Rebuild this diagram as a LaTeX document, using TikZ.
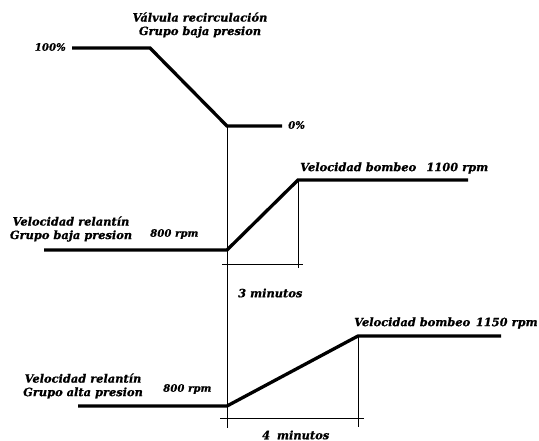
\documentclass[tikz,border=0pt]{standalone}
\usepackage{fontspec}
\setmainfont{DejaVu Serif}[BoldItalicFeatures={FakeBold=0.9}]
\begin{document}
\begin{tikzpicture}[x=1pt,y=-1pt,
  trace/.style={line width=3.3pt,line join=miter},
  guide/.style={line width=0.9pt},
  lbl/.style={inner sep=0pt,font=\fontsize{11.4}{13.5}\selectfont\bfseries\itshape},
  lbls/.style={lbl,font=\fontsize{10.2}{12}\selectfont\bfseries\itshape}]
\useasboundingbox (0,0) rectangle (539,441);
% valve trace
\coordinate (v0) at (72,48);
\coordinate (v1) at (150,48);
\coordinate (v2) at (227,126);
\coordinate (v3) at (282,126);
\draw[trace] (v0) -- (v1) -- (v2) -- (v3);
% low pressure group trace
\coordinate (a0) at (44,250);
\coordinate (a1) at (227,250);
\coordinate (a2) at (298,180);
\coordinate (a3) at (468,180);
\draw[trace] (a0) -- (a1) -- (a2) -- (a3);
% high pressure group trace
\coordinate (b0) at (78,406);
\coordinate (b1) at (227,406);
\coordinate (b2) at (358,336);
\coordinate (b3) at (501,336);
\draw[trace] (b0) -- (b1) -- (b2) -- (b3);
% time reference and dimension lines
\coordinate (t0) at (227,428);
\draw[guide] (v2) -- (t0);
\coordinate (ta) at (298,268);
\draw[guide] (a2) -- (ta);
\coordinate (da0) at (222,264);
\coordinate (da1) at (303,264);
\draw[guide] (da0) -- (da1);
\coordinate (tb) at (358,427);
\draw[guide] (b2) -- (tb);
\coordinate (db0) at (220,418);
\coordinate (db1) at (364,418);
\draw[guide] (db0) -- (db1);
% labels
\node[lbl,align=center] (title) at (200,25) {Válvula recirculación\\Grupo baja presion};
\node[lbls,anchor=east] (p100) at (66,47) {100\%};
\node[lbls,anchor=west] (p0) at (288,125) {0\%};
\node[lbl,align=center] (ra) at (71,229) {Velocidad relantín\\Grupo baja presion};
\node[lbls,anchor=west] (ra8) at (150,234) {800 rpm};
\node[lbl,anchor=west] (ba) at (300,168) {Velocidad bombeo\hspace{0.9em}1100 rpm};
\node[lbl,anchor=west] (ma) at (238,293) {3 minutos};
\node[lbl,align=center] (rb) at (83,386) {Velocidad relantín\\Grupo alta presion};
\node[lbls,anchor=west] (rb8) at (163,389) {800 rpm};
\node[lbl,anchor=west] (bb) at (354,323) {Velocidad bombeo\hspace{0.5em}1150 rpm};
\node[lbl,anchor=west] (mb) at (262,435) {4\hspace{0.6em}minutos};
\end{tikzpicture}
\end{document}
